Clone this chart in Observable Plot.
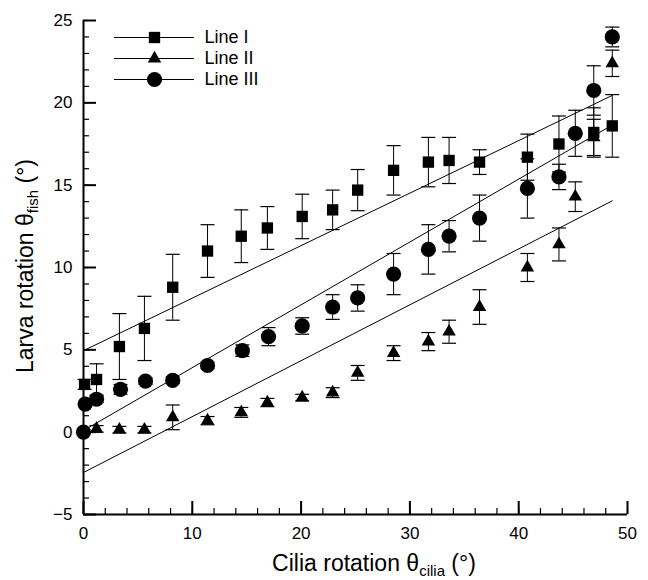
<!DOCTYPE html>
<html>
<head>
<meta charset="utf-8">
<script src="https://cdn.jsdelivr.net/npm/d3@7"></script>
<script src="https://cdn.jsdelivr.net/npm/@observablehq/plot@0.6"></script>
<style>
  body { margin: 0; background: white; }
  #wrap { position: relative; width: 648px; height: 580px; font-family: "Liberation Sans", Arial, sans-serif; }
  #wrap svg { position: absolute; left: 0; top: 0; }
</style>
</head>
<body>
<div id="wrap"></div>
<script>
// ---- Data ----
const seriesNames = ["Line I", "Line II", "Line III"];

const xI = [0.1, 1.2, 3.3, 5.6, 8.2, 11.4, 14.5, 16.9, 20.1, 22.9, 25.2, 28.5, 31.7, 33.6, 36.4, 40.8, 43.7, 46.9, 48.6];
const yI = [2.9, 3.2, 5.2, 6.3, 8.8, 11.0, 11.9, 12.4, 13.1, 13.5, 14.7, 15.9, 16.4, 16.5, 16.4, 16.7, 17.5, 18.2, 18.6];
const eI = [0.3, 0.95, 2.0, 1.95, 2.0, 1.6, 1.6, 1.3, 1.35, 1.2, 1.25, 1.5, 1.5, 1.4, 0.75, 1.4, 1.7, 1.5, 1.9];

const xII = [1.2, 3.3, 5.6, 8.2, 11.4, 14.5, 16.9, 20.1, 22.9, 25.2, 28.5, 31.7, 33.6, 36.4, 40.8, 43.7, 45.2, 46.9, 48.6];
const yII = [0.2, 0.15, 0.15, 0.9, 0.7, 1.2, 1.8, 2.1, 2.4, 3.6, 4.8, 5.5, 6.1, 7.6, 10.0, 11.4, 14.3, 17.9, 22.4];
const eII = [0.2, 0.2, 0.2, 0.75, 0.25, 0.3, 0.25, 0.2, 0.3, 0.45, 0.45, 0.55, 0.7, 1.05, 0.85, 1.0, 0.9, 1.1, 0.8];

const xIII = [0.0, 0.15, 1.2, 3.4, 5.7, 8.2, 11.4, 14.6, 17.0, 20.1, 22.9, 25.2, 28.5, 31.7, 33.6, 36.4, 40.8, 43.7, 45.2, 46.9, 48.6];
const yIII = [0.0, 1.7, 2.0, 2.6, 3.1, 3.15, 4.05, 4.95, 5.8, 6.45, 7.6, 8.15, 9.6, 11.1, 11.9, 13.0, 14.8, 15.5, 18.15, 20.75, 24.0];
const eIII = [0, 0, 0.2, 0.3, 0.2, 0.2, 0.2, 0.35, 0.55, 0.5, 0.75, 0.8, 1.25, 1.5, 0.95, 1.4, 1.8, 0.77, 1.4, 1.5, 0.6];

// Linear fit lines (endpoints)
const fitX = [0, 48.6];
const fitI = [4.95, 20.45];
const fitII = [-2.45, 14.05];
const fitIII = [0.1, 18.65];

// Tick values
const xMajor = [0, 10, 20, 30, 40, 50];
const xMinor = d3.range(0, 51, 2);
const yMajor = [-5, 0, 5, 10, 15, 20, 25];
const yMinor = d3.range(-5, 26, 1);

const symbols = {"Line I": "square", "Line II": "triangle", "Line III": "circle"};
const radii = {"Line I": 6.4, "Line II": 5.0, "Line III": 7.6};

// ---- Build tables ----
function pts(name, xs, ys, es) {
  return xs.map((x, i) => ({series: name, x, y: ys[i], e: es[i]}));
}
const points = [
  ...pts("Line I", xI, yI, eI),
  ...pts("Line II", xII, yII, eII),
  ...pts("Line III", xIII, yIII, eIII)
];
const fits = [
  ...fitX.map((x, i) => ({series: "Line I", x, y: fitI[i]})),
  ...fitX.map((x, i) => ({series: "Line II", x, y: fitII[i]})),
  ...fitX.map((x, i) => ({series: "Line III", x, y: fitIII[i]}))
];
const withErr = points.filter(d => d.e > 0);

const capSymbol = {
  draw(context) { context.moveTo(-7, 0); context.lineTo(7, 0); }
};

const font = "Liberation Sans, Arial, sans-serif";

const chart = Plot.plot({
  width: 648,
  height: 580,
  marginLeft: 83,
  marginRight: 21,
  marginTop: 20,
  marginBottom: 66,
  style: {fontFamily: font, background: "transparent", overflow: "visible"},
  x: {domain: [0, 50]},
  y: {domain: [-5, 25]},
  marks: [
    // axes lines
    Plot.ruleX([0], {stroke: "black", strokeWidth: 2}),
    Plot.ruleY([-5], {stroke: "black", strokeWidth: 2}),
    // minor ticks (inward)
    Plot.axisX({ticks: xMinor, tickSize: -6, tickFormat: () => "", label: null, stroke: "black", strokeWidth: 1.2}),
    Plot.axisY({ticks: yMinor, tickSize: -6, tickFormat: () => "", label: null, stroke: "black", strokeWidth: 1.2}),
    // major ticks (inward)
    Plot.axisX({ticks: xMajor, tickSize: -13, tickFormat: () => "", label: null, stroke: "black", strokeWidth: 2}),
    Plot.axisY({ticks: yMajor, tickSize: -13, tickFormat: () => "", label: null, stroke: "black", strokeWidth: 2}),
    // tick labels
    Plot.axisX({ticks: xMajor, tickSize: 0, tickPadding: 12, label: null, fontSize: 17, fill: "black"}),
    Plot.axisY({ticks: yMajor, tickSize: 0, tickPadding: 11, label: null, fontSize: 17, fill: "black"}),
    // fit lines
    Plot.line(fits, {x: "x", y: "y", z: "series", stroke: "black", strokeWidth: 1}),
    // error bars
    Plot.ruleX(withErr, {x: "x", y1: d => d.y - d.e, y2: d => d.y + d.e, stroke: "black", strokeWidth: 1}),
    Plot.dot(withErr, {x: "x", y: d => d.y + d.e, symbol: () => capSymbol, r: 5, fill: "none", stroke: "black", strokeWidth: 1.2}),
    Plot.dot(withErr, {x: "x", y: d => d.y - d.e, symbol: () => capSymbol, r: 5, fill: "none", stroke: "black", strokeWidth: 1.2}),
    // markers
    ...seriesNames.map(name => Plot.dot(points.filter(d => d.series === name), {
      x: "x", y: "y", symbol: symbols[name], r: radii[name], fill: "black", stroke: "none"
    }))
  ]
});

// Axis titles with subscripts
const svg = d3.select(chart.tagName.toLowerCase() === "svg" ? chart : chart.querySelector("svg"));
const xt = svg.append("text")
  .attr("x", 374).attr("y", 571)
  .attr("text-anchor", "middle")
  .attr("font-family", font).attr("font-size", 23).attr("fill", "black");
xt.append("tspan").text("Cilia rotation θ");
xt.append("tspan").attr("font-size", 15).attr("dy", 5).text("cilia");
xt.append("tspan").attr("dy", -5).text(" (°)");

const yt = svg.append("text")
  .attr("transform", "translate(33,266) rotate(-90)")
  .attr("text-anchor", "middle")
  .attr("font-family", font).attr("font-size", 23).attr("fill", "black");
yt.append("tspan").text("Larva rotation θ");
yt.append("tspan").attr("font-size", 15).attr("dy", 5).text("fish");
yt.append("tspan").attr("dy", -5).text(" (°)");

document.getElementById("wrap").appendChild(chart);

// Legend (drawn with Plot, overlaid inside the plot area)
const legend = Plot.plot({
  width: 320,
  height: 100,
  margin: 0,
  style: {fontFamily: font, background: "transparent", overflow: "visible"},
  x: {domain: [0, 1], range: [114, 194], axis: null},
  y: {type: "point", domain: seriesNames, range: [36.7, 79], padding: 0, axis: null},
  marks: [
    Plot.ruleY(seriesNames, {y: d => d, x1: 0, x2: 1, stroke: "black", strokeWidth: 1}),
    ...seriesNames.map(name => Plot.dot([name], {
      x: 0.5, y: d => d, symbol: symbols[name], r: radii[name], fill: "black", stroke: "none"
    })),
    Plot.text(seriesNames, {x: 1, y: d => d, text: d => d, dx: 10, textAnchor: "start", fontSize: 18, fill: "black"})
  ]
});
legend.style.pointerEvents = "none";
document.getElementById("wrap").appendChild(legend);
</script>
</body>
</html>
